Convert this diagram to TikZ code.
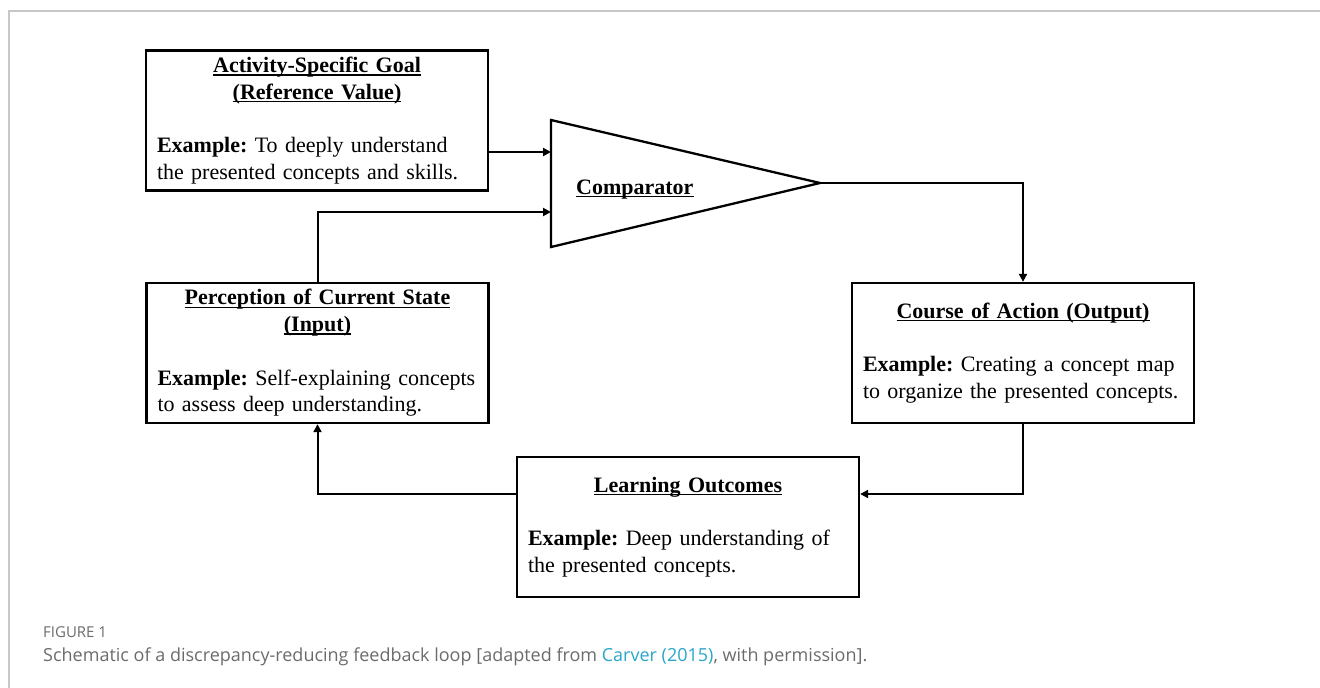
\documentclass[tikz,border=0pt]{standalone}
\usepackage{fontspec}
\setmainfont{Liberation Serif}
\newfontfamily\capfont{Open Sans}
\usetikzlibrary{arrows.meta}
\definecolor{capgray}{HTML}{6B6B6B}
\definecolor{citeblue}{HTML}{2AA6C8}
\definecolor{framegray}{HTML}{C8C8C8}
\frenchspacing
\hyphenpenalty=10000
\newsavebox{\hdbox}
\newcommand{\ulbf}[1]{\sbox{\hdbox}{\textbf{#1}}\rlap{\rule[-3.2pt]{\wd\hdbox}{1.4pt}}\usebox{\hdbox}}
\newcommand{\hd}[1]{\makebox[\linewidth]{\ulbf{#1}}}
\tikzset{
  every picture/.style={line join=miter, >={Triangle[length=8pt,width=8pt]}},
  loopbox/.style={draw, line width=2.3pt, minimum width=342pt, minimum height=140pt,
    text width=320pt, inner xsep=11pt, align=left, font=\fontsize{22}{26.75}\selectfont},
  link/.style={->, line width=2pt},
  captext/.style={anchor=base west, inner sep=0pt, text=capgray},
}

\begin{document}
\begin{tikzpicture}[x=1pt,y=-1pt]
\useasboundingbox (0,0) rectangle (1320,688);
% frame of the figure
\draw[framegray, line width=1.5pt] (9,688) -- (9,11) -- (1320,11);

% the four boxes
\node[loopbox] (goal) at (317,120.5) {\hd{Activity-Specific Goal}\\ \hd{(Reference Value)}\\[\baselineskip]
  \textbf{Example:} To deeply understand\\ the presented concepts and skills.};
\node[loopbox] (state) at (317.5,353) {\hd{Perception of Current State}\\ \hd{(Input)}\\[\baselineskip]
  \textbf{Example:} Self-explaining concepts\\ to assess deep understanding.};
\node[loopbox] (action) at (1023,353) {\hd{Course of Action (Output)}\\[\baselineskip]
  \textbf{Example:} Creating a concept map\\ to organize the presented concepts.};
\node[loopbox] (outcome) at (688,527) {\hd{Learning Outcomes}\\[\baselineskip]
  \textbf{Example:} Deep understanding of\\ the presented concepts.};

% comparator
\coordinate (cmpT) at (551,120);
\coordinate (cmpB) at (551,247);
\coordinate (cmpTip) at (820,183);
\coordinate (inGoal) at (551,152);
\coordinate (inState) at (551,212);
\draw[line width=2.3pt] (cmpT) -- (cmpTip) -- (cmpB) -- cycle;
\node[anchor=base west, inner sep=0pt, font=\fontsize{22}{26.75}\selectfont] (cmp) at (576,194) {\ulbf{Comparator}};

% loop
\draw[link] (goal.east |- inGoal) -- (inGoal);
\draw[link] (state.north) |- (inState);
\draw[link] (cmpTip) -| (action.north);
\draw[link] (action.south) |- ([yshift=33pt]outcome.east);
\draw[link] ([yshift=33pt]outcome.west) -| (state.south);

% caption
\node[captext, font=\capfont\fontsize{15}{17}\selectfont] (figlabel) at (43,637) {FIGURE 1};
\node[captext, font=\capfont\fontsize{18}{21}\selectfont] (caption) at (43,661)
  {Schematic of a discrepancy-reducing feedback loop [adapted from \textcolor{citeblue}{Carver (2015)}, with permission].};
\end{tikzpicture}
\end{document}
